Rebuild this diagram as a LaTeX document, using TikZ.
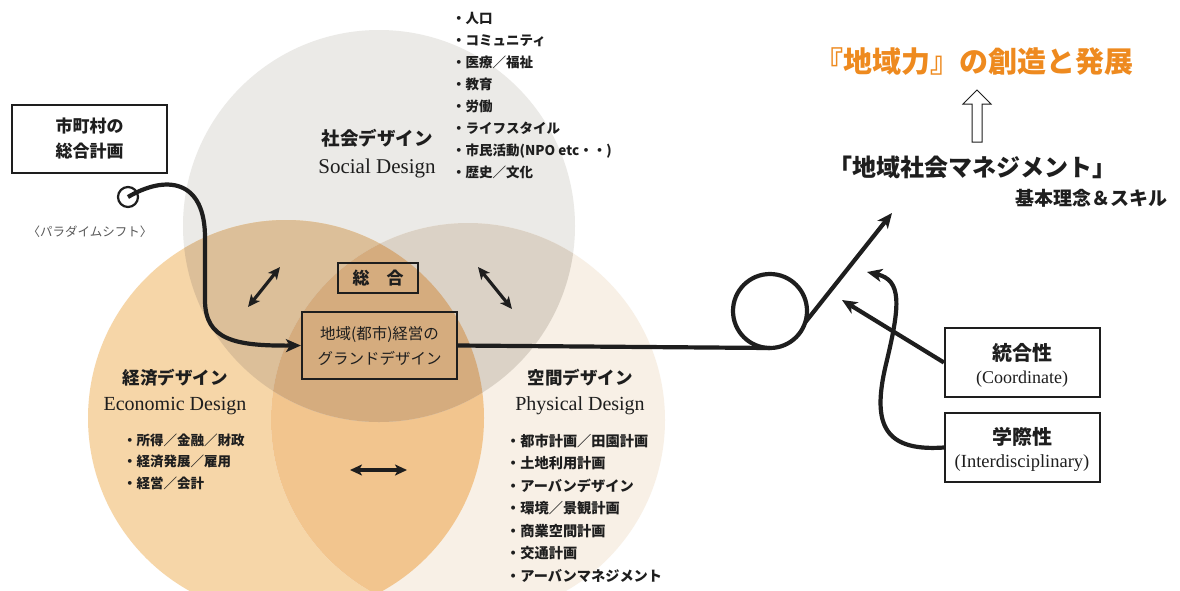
\documentclass[tikz,border=0pt]{standalone}
\usepackage{fontspec}
\setmainfont{Noto Sans CJK JP}
\newfontfamily\en{Liberation Serif}
\usetikzlibrary{arrows.meta,calc}
\definecolor{cS}{HTML}{EBEAE7}
\definecolor{cE}{HTML}{F6D6A8}
\definecolor{cP}{HTML}{F8F0E6}
\definecolor{cSE}{HTML}{DCBF99}
\definecolor{cSP}{HTML}{DBD2C6}
\definecolor{cEP}{HTML}{F2C58E}
\definecolor{cSEP}{HTML}{D5AC7E}
\definecolor{ink}{HTML}{1E1E1E}
\definecolor{orng}{HTML}{EE8A1F}
\newcommand{\fsz}[1]{\fontsize{#1}{#1}\selectfont}
\tikzset{
  box/.style={draw=ink, line width=2.2pt, inner sep=0pt, fill=none},
  conn/.style={draw=ink, line width=4.2pt},
  tipA/.style={-{Stealth[length=15pt,width=13pt,inset=4pt]}},
  dbl/.style={draw=ink, line width=3.2pt, {Stealth[length=12pt,width=11pt,inset=3pt]}-{Stealth[length=12pt,width=11pt,inset=3pt]}},
  lst/.style={anchor=base west, inner sep=0pt, text=ink, font=\fsz{13.5}\bfseries},
  ttl/.style={inner sep=0pt, text=ink, font=\fsz{17.5}\bfseries},
  entl/.style={anchor=base, inner sep=0pt, text=ink, font=\en\fsz{20}},
}
\begin{document}
\begin{tikzpicture}[x=1pt,y=-1pt]
\path[use as bounding box, fill=white] (0,0) rectangle (1180,590);
\coordinate (cs) at (379,226);
\coordinate (ce) at (286,418);
\coordinate (cp) at (468,420);
\begin{scope}
  \clip (0,0) rectangle (1180,590);
  \fill[cS] (cs) circle[radius=196];
  \fill[cE] (ce) circle[radius=198];
  \fill[cP] (cp) circle[radius=197];
  \begin{scope}\clip (ce) circle[radius=198]; \fill[cEP] (cp) circle[radius=197];\end{scope}
  \begin{scope}\clip (cs) circle[radius=196]; \fill[cSE] (ce) circle[radius=198];\end{scope}
  \begin{scope}\clip (cs) circle[radius=196]; \fill[cSP] (cp) circle[radius=197];\end{scope}
  \begin{scope}\clip (cs) circle[radius=196]; \clip (ce) circle[radius=198]; \fill[cSEP] (cp) circle[radius=197];\end{scope}
\end{scope}

% titles
\node[ttl, font=\fsz{18.5}\bfseries] (st) at (377,138) {社会デザイン};
\node[entl, font=\en\fsz{21}] (se) at (377,173) {Social Design};
\node[ttl] (et) at (175,378) {経済デザイン};
\node[entl] (ee) at (175,410) {Economic Design};
\node[ttl] (pt) at (580,378) {空間デザイン};
\node[entl] (pe) at (580,410) {Physical Design};

% lists
\foreach \t [count=\i] in {・人口,・コミュニティ,・医療／福祉,・教育,・労働,・ライフスタイル,・市民活動(NPO etc・・),・歴史／文化}
  \node[lst] (sl\i) at (452,{23+22*(\i-1)}) {\t};
\foreach \t [count=\i] in {・所得／金融／財政,・経済発展／雇用,・経営／会計}
  \node[lst] (el\i) at (123,{445+21.5*(\i-1)}) {\t};
\foreach \t [count=\i] in {・都市計画／田園計画,・土地利用計画,・アーバンデザイン,・環境／景観計画,・商業空間計画,・交通計画,・アーバンマネジメント}
  \node[lst, font=\fsz{14.2}\bfseries] (pl\i) at (506,{446+22.5*(\i-1)}) {\t};

% boxes
\node[box, minimum width=155pt, minimum height=68pt, align=center, font=\fontsize{17}{25}\selectfont\bfseries, text=ink] (mp) at (89.5,139) {市町村の\\総合計画};
\node[box, minimum width=80pt, minimum height=30pt, font=\fsz{17}\bfseries, text=ink] (sg) at (378,278) {総　合};
\node[box, minimum width=155pt, minimum height=67pt, align=center, font=\fontsize{15.5}{25}\selectfont, text=ink] (gd) at (379.5,345.5) {地域(都市)経営の\\グランドデザイン};

\node[text=black!65, inner sep=0pt, font=\fsz{12.5}] (ps) at (90,232) {〈パラダイムシフト〉};

% double arrows
\coordinate (d1a) at (248,307); \coordinate (d1b) at (280,267);
\coordinate (d2a) at (478,267); \coordinate (d2b) at (512,309);
\coordinate (d3a) at (350,470); \coordinate (d3b) at (407,470);
\draw[dbl] (d1a) -- (d1b);
\draw[dbl] (d2a) -- (d2b);
\draw[dbl] (d3a) -- (d3b);

% left curve
\coordinate (pc) at (128,197);
\draw[draw=ink, line width=2.2pt] (pc) circle[radius=10];
\draw[conn, tipA] (pc) .. controls (165,175) and (206,178) .. (205,240) -- (205,300) .. controls (205,340) and (235,346) .. (gd.west);

% loop
\coordinate (lc) at (770,311);
\coordinate (lb) at (770,348);
\draw[conn] (gd.east) -- (lb);
\draw[conn] (lc) circle[radius=37];
\coordinate (lx) at ($(lc)+(18:37)$);
\coordinate (t1) at (892,213);
\draw[conn, tipA] (lx) -- (t1);

% right boxes
\node[box, minimum width=155pt, minimum height=69pt] (co) at (1022.5,362.5) {};
\node[ttl, font=\fsz{20}\bfseries] (cot) at (1022,353) {統合性};
\node[entl, font=\en\fsz{18}] (coe) at (1022,383) {(Coordinate)};
\node[box, minimum width=155pt, minimum height=69pt] (in) at (1022.5,447.5) {};
\node[ttl, font=\fsz{20}\bfseries] (int) at (1022,437) {学際性};
\node[entl, font=\en\fsz{18.5}] (ine) at (1022,467) {(Interdisciplinary)};

\coordinate (t2) at (842,300);
\draw[conn, tipA] (co.west) -- (t2);
\coordinate (t3) at (867,272);
\draw[conn, tipA] (in.west) .. controls (880,452) and (872,420) .. (887,360) .. controls (900,305) and (902,280) .. (t3);

% right top texts
\node[inner sep=0pt, text=orng, font=\fsz{29}\bfseries] (ttl) at (974,62) {『地域力』の創造と発展};
\draw[draw=ink, line width=1pt, fill=white] (977,90) -- (991,104) -- (982,104) -- (982,142) -- (972,142) -- (972,104) -- (963,104) -- cycle;
\node[inner sep=0pt, text=ink, font=\fsz{24}\bfseries] (mg) at (972,167) {「地域社会マネジメント」};
\node[inner sep=0pt, text=ink, font=\fsz{19}\bfseries] (sk) at (1091,198) {基本理念＆スキル};
\end{tikzpicture}
\end{document}
